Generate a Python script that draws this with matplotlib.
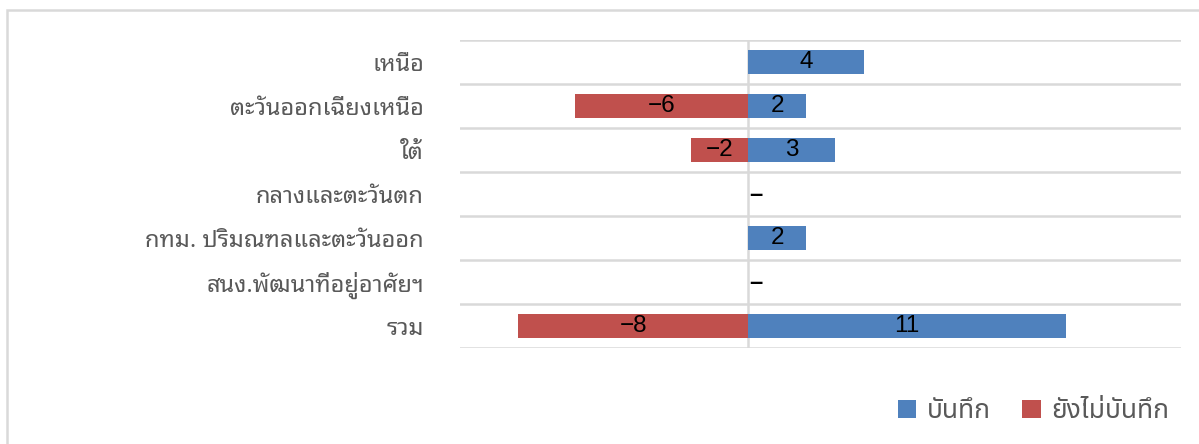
import matplotlib
matplotlib.use("Agg")
import matplotlib.pyplot as plt
from matplotlib.patches import Rectangle
import numpy as np

# regions, top to bottom as shown
regions = [
    "เหนือ",
    "ตะวันออกเฉียงเหนือ",
    "ใต้",
    "กลางและตะวันตก",
    "กทม. ปริมณฑลและตะวันออก",
    "สนง.พัฒนาที่อยู่อาศัยฯ",
    "รวม",
]
recorded = [4, 2, 3, 0, 2, 0, 11]          # บันทึก
not_recorded = [0, -6, -2, 0, 0, 0, -8]    # ยังไม่บันทึก
series_names = ["บันทึก", "ยังไม่บันทึก"]

BLUE = "#4F81BD"
RED = "#C0504D"
GRID = "#D9D9D9"
TXT = "#595959"
THAI_LOOPED = ["Noto Sans Thai Looped", "DejaVu Sans"]
THAI = ["Noto Sans Thai", "DejaVu Sans"]
NUM = ["Liberation Sans", "DejaVu Sans"]

fig = plt.figure(figsize=(11.99, 4.44), dpi=100)
ax = fig.add_axes([460 / 1199, 1 - 348 / 444, (1181 - 460) / 1199, (348 - 40) / 444])

y = np.arange(len(regions))
h = 0.53
b1 = ax.barh(y, recorded, height=h, color=BLUE, label=series_names[0], zorder=3)
b2 = ax.barh(y, not_recorded, height=h, color=RED, label=series_names[1], zorder=3)

for i, (v1, v2) in enumerate(zip(recorded, not_recorded)):
    if v1:
        ax.text(v1 / 2, i, str(v1), ha="center", va="center", fontsize=17.5,
                family=NUM, color="black", zorder=4)
    if v2:
        ax.text(v2 / 2, i, "\u2212" + str(abs(v2)), ha="center", va="center",
                fontsize=17.5, family=NUM, color="black", zorder=4)
    if v1 == 0 and v2 == 0:
        ax.text(0.03, i + 0.02, "\u2013", ha="left", va="center", fontsize=17,
                family=NUM, fontweight="bold", color="black", zorder=4)

ax.set_xlim(-10, 15)
ax.set_ylim(len(regions) - 0.5, -0.5)
ax.set_yticks(y)
ax.set_yticklabels(regions, family=THAI_LOOPED, fontsize=17, color=TXT)
ax.tick_params(axis="y", length=0, pad=26)
ax.set_xticks([])

# category separators
for k in range(len(regions) + 1):
    ax.axhline(k - 0.5, color=GRID, lw=1.8, zorder=1)
ax.axvline(0, color=GRID, lw=1.8, zorder=2)
for s in ax.spines.values():
    s.set_visible(False)

# chart frame (cut at right and bottom)
fig.patches.append(Rectangle((6.5 / 1199, -0.2), 1.5, 1.2 - 10 / 444,
                             transform=fig.transFigure, fill=False,
                             edgecolor=GRID, lw=1.8))

leg = fig.legend(handles=[b1, b2], labels=series_names, loc="center right",
                 bbox_to_anchor=(1180 / 1199, 1 - 411 / 444), ncol=2, frameon=False,
                 prop={"family": THAI, "size": 19}, handlelength=0.7, handleheight=0.7,
                 handletextpad=0.4, columnspacing=1.2, borderaxespad=0)
for t in leg.get_texts():
    t.set_color(TXT)

fig.savefig("out.png", dpi=100)
